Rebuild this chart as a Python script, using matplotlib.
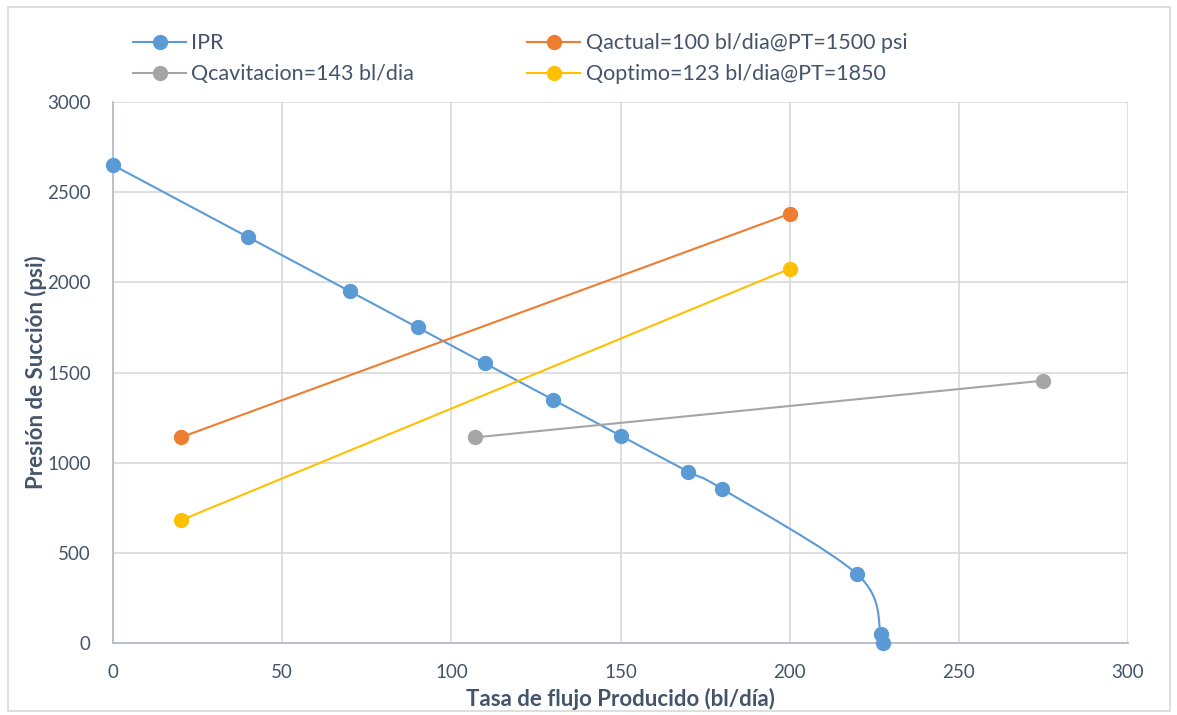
import numpy as np
import matplotlib
matplotlib.use("Agg")
import matplotlib.pyplot as plt
from matplotlib.path import Path
from matplotlib.patches import PathPatch, Rectangle
from matplotlib.lines import Line2D

plt.rcParams['font.family'] = ['Lato', 'DejaVu Sans']

# Data
ipr_q = [0, 40, 70, 90, 110, 130, 150, 170, 180, 220, 227, 227.5]
ipr_p = [2650, 2250, 1950, 1750, 1550, 1350, 1150, 950, 855, 380, 50, 0]
actual_q = [20, 200]
actual_p = [1140, 2380]
cav_q = [107, 275]
cav_p = [1140, 1455]
opt_q = [20, 200]
opt_p = [680, 2075]

labels = ["IPR", "Qactual=100 bl/dia@PT=1500 psi",
          "Qcavitacion=143 bl/dia", "Qoptimo=123 bl/dia@PT=1850"]
c_ipr, c_act, c_cav, c_opt = "#5B9BD5", "#ED7D31", "#A5A5A5", "#FFC000"

fig = plt.figure(figsize=(11.77, 7.15), dpi=100)
ax = fig.add_axes([113/1177, 1-643/715, (1128-113)/1177, (643-102)/715])

# Smoothed IPR (Catmull-Rom style Bezier like Excel)
P = np.column_stack([ipr_q, ipr_p]).astype(float)
verts = [P[0]]
codes = [Path.MOVETO]
n = len(P)
for i in range(n-1):
    p0 = P[i-1] if i > 0 else P[i]
    p1 = P[i]
    p2 = P[i+1]
    p3 = P[i+2] if i+2 < n else P[i+1]
    c1 = p1 + (p2 - p0) / 6.0
    c2 = p2 - (p3 - p1) / 6.0
    verts += [c1, c2, p2]
    codes += [Path.CURVE4]*3
ax.add_patch(PathPatch(Path(verts, codes), facecolor='none', edgecolor=c_ipr, lw=1.5, zorder=3))
ms = 10
ax.plot(ipr_q, ipr_p, 'o', color=c_ipr, ms=ms, zorder=4, clip_on=False)
ax.plot(actual_q, actual_p, '-o', color=c_act, ms=ms, lw=1.5, zorder=4)
ax.plot(cav_q, cav_p, '-o', color=c_cav, ms=ms, lw=1.5, zorder=4)
ax.plot(opt_q, opt_p, '-o', color=c_opt, ms=ms, lw=1.5, zorder=4)

ax.set_xlim(0, 300)
ax.set_ylim(0, 3000)
ax.set_xticks(np.arange(0, 301, 50))
ax.set_yticks(np.arange(0, 3001, 500))
ax.grid(True, color='#D9D9D9', lw=1.2)
ax.set_axisbelow(True)
for s in ['top', 'right']:
    ax.spines[s].set_visible(False)
for s in ['left', 'bottom']:
    ax.spines[s].set_color('#B4BCCB')
    ax.spines[s].set_linewidth(1.3)
tc = '#44546A'
ax.tick_params(axis='both', length=0, labelsize=13.5, colors=tc)
ax.tick_params(axis='y', pad=16)
ax.tick_params(axis='x', pad=15)
ax.set_xlabel("Tasa de flujo Producido (bl/día)", fontsize=16, fontweight='bold', color=tc, labelpad=5)
ax.set_ylabel("Presión de Succión (psi)", fontsize=16, fontweight='bold', color=tc, labelpad=0)

handles = [Line2D([], [], color=c, marker='o', ms=ms, lw=1.5) for c in [c_ipr, c_act, c_cav, c_opt]]
order = [0, 2, 1, 3]
leg = fig.legend([handles[i] for i in order], [labels[i] for i in order], ncol=2,
                 loc='upper left', bbox_to_anchor=(114/1177, 1-14/715), frameon=False,
                 fontsize=15.5, handlelength=2.45, columnspacing=5.25, labelspacing=0.5,
                 handletextpad=0.25, labelcolor=tc)

fig.patches.append(Rectangle((8/1177, 4/715), 1162/1177, 704/715, transform=fig.transFigure,
                             fill=False, edgecolor='#D9D9D9', lw=1.2))
fig.savefig("out.png", dpi=100, facecolor='white')
